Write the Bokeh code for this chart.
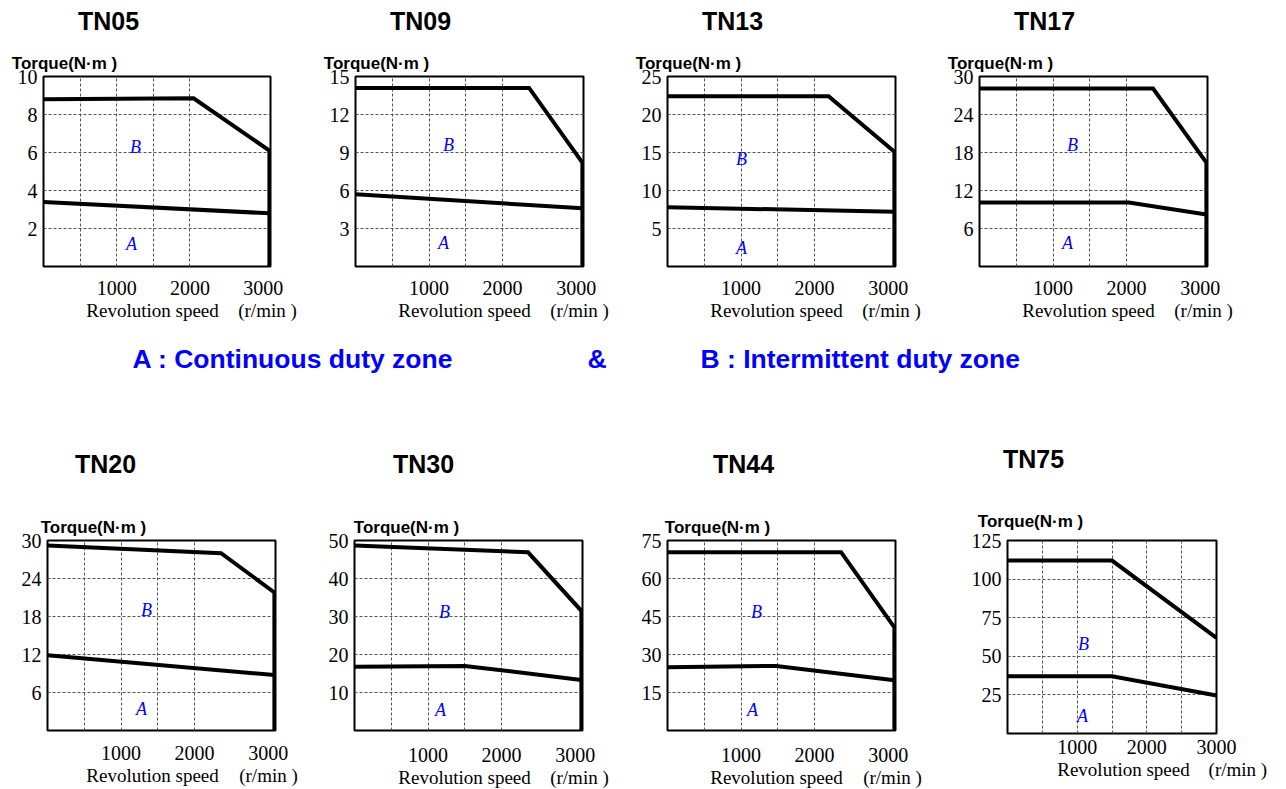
from bokeh.plotting import figure
from bokeh.models import Range1d, FixedTicker, Label, LinearAxis
from bokeh.layouts import column, row
from bokeh.embed import file_html
from bokeh.resources import INLINE
from bokeh.core.properties import value

models = ["TN05", "TN09", "TN13", "TN17", "TN20", "TN30", "TN44", "TN75"]

# ---- Zone B boundary (intermittent duty): speed r/min, torque N·m ----
tn05_b_rpm = [0, 2050, 3085, 3085]
tn05_b_nm = [8.8, 8.85, 6.1, 0]
tn09_b_rpm = [0, 2360, 3085, 3085]
tn09_b_nm = [14.1, 14.1, 8.2, 0]
tn13_b_rpm = [0, 2190, 3085, 3085]
tn13_b_nm = [22.4, 22.4, 15.1, 0]
tn17_b_rpm = [0, 2360, 3085, 3085]
tn17_b_nm = [28.1, 28.1, 16.4, 0]
tn20_b_rpm = [0, 2360, 3085, 3085]
tn20_b_nm = [29.2, 28.0, 21.8, 0]
tn30_b_rpm = [0, 2360, 3085, 3085]
tn30_b_nm = [48.7, 46.9, 31.5, 0]
tn44_b_rpm = [0, 2360, 3085, 3085]
tn44_b_nm = [70.4, 70.4, 40.7, 0]
tn75_b_rpm = [0, 1500, 3000]
tn75_b_nm = [112, 112, 62]

# ---- Zone A boundary (continuous duty) ----
tn05_a_rpm = [0, 3085]
tn05_a_nm = [3.4, 2.8]
tn09_a_rpm = [0, 3085]
tn09_a_nm = [5.7, 4.6]
tn13_a_rpm = [0, 3085]
tn13_a_nm = [7.8, 7.2]
tn17_a_rpm = [0, 2030, 3085]
tn17_a_nm = [10.1, 10.1, 8.2]
tn20_a_rpm = [0, 3085]
tn20_a_nm = [11.9, 8.75]
tn30_a_rpm = [0, 1500, 3085]
tn30_a_nm = [16.8, 17.0, 13.3]
tn44_a_rpm = [0, 1480, 3085]
tn44_a_nm = [25.0, 25.5, 19.8]
tn75_a_rpm = [0, 1500, 3000]
tn75_a_nm = [37, 37, 24.6]

b_rpm = [tn05_b_rpm, tn09_b_rpm, tn13_b_rpm, tn17_b_rpm, tn20_b_rpm, tn30_b_rpm, tn44_b_rpm, tn75_b_rpm]
b_nm = [tn05_b_nm, tn09_b_nm, tn13_b_nm, tn17_b_nm, tn20_b_nm, tn30_b_nm, tn44_b_nm, tn75_b_nm]
a_rpm = [tn05_a_rpm, tn09_a_rpm, tn13_a_rpm, tn17_a_rpm, tn20_a_rpm, tn30_a_rpm, tn44_a_rpm, tn75_a_rpm]
a_nm = [tn05_a_nm, tn09_a_nm, tn13_a_nm, tn17_a_nm, tn20_a_nm, tn30_a_nm, tn44_a_nm, tn75_a_nm]

# ---- axes ----
torque_max = [10, 15, 25, 30, 30, 50, 75, 125]
torque_ticks = [
    [2, 4, 6, 8, 10],
    [3, 6, 9, 12, 15],
    [5, 10, 15, 20, 25],
    [6, 12, 18, 24, 30],
    [6, 12, 18, 24, 30],
    [10, 20, 30, 40, 50],
    [15, 30, 45, 60, 75],
    [25, 50, 75, 100, 125],
]
speed_max = [3100, 3100, 3100, 3100, 3100, 3100, 3100, 3000]
speed_labels = [1000, 2000, 3000]
speed_grid = [
    [500, 1000, 1500, 2000],
    [500, 1000, 1500, 2000],
    [500, 1000, 1500, 2000],
    [500, 1000, 1500, 2000],
    [500, 1000, 1500, 2000],
    [500, 1000, 1500, 2000],
    [500, 1000, 1500, 2000],
    [500, 1000, 1500, 2000, 2500],
]

torque_label = "Torque(N·m )"
speed_label = "Revolution speed"
speed_unit = "(r/min )"
legend_texts = ["A : Continuous duty zone", "&", "B : Intermittent duty zone"]

# ---- layout / style (pixels); *_c = text centre, px right of frame's left edge ----
TOP = dict(fw=228, fh=190, bt=76, bb=64, tso=14, uso=2, ts=4, ns=16,
           title_c=65, torque_c=21, speed_c=109, unit_c=224, pad=0)
LAY = {
    "TN05": dict(TOP, bl=43, br=42, fw=227, B=(92, 70), A=(88, 167)),
    "TN09": dict(TOP, bl=43, br=41, B=(93, 68), A=(88, 166)),
    "TN13": dict(TOP, bl=43, br=41, B=(74, 82), A=(74, 171)),
    "TN17": dict(TOP, bl=43, br=41, B=(93, 68), A=(88, 166)),
    "TN20": dict(bl=47, fw=228, br=37, bt=99, fh=190, bb=60, tso=15, uso=2, ts=4, ns=37,
                 title_c=58, torque_c=46, speed_c=105, unit_c=221, pad=0, B=(99, 69), A=(94, 168)),
    "TN30": dict(bl=42, fw=228, br=42, bt=97, fh=190, bb=62, tso=17, uso=2, ts=4, ns=37,
                 title_c=69, torque_c=52, speed_c=110, unit_c=225, pad=0, B=(90, 71), A=(86, 169)),
    "TN44": dict(bl=43, fw=228, br=41, bt=97, fh=190, bb=62, tso=17, uso=2, ts=4, ns=37,
                 title_c=76, torque_c=50, speed_c=109, unit_c=225, pad=0, B=(89, 71), A=(85, 169)),
    "TN75": dict(bl=71, fw=209, br=54, bt=100, fh=193, bb=56, tso=6, uso=2, ts=10, ns=36,
                 title_c=26, torque_c=23, speed_c=116, unit_c=209, pad=9, B=(76, 103), A=(75, 175)),
}

SERIF = "Liberation Serif"
SANS = "Liberation Sans"
BLUE = "#0000ff"


def text_axis(p, place, ticks, labels, font, size, style, standoff):
    ax = LinearAxis(ticker=FixedTicker(ticks=ticks),
                    major_label_overrides={t: s for t, s in zip(ticks, labels)})
    ax.axis_line_color = None
    ax.major_tick_line_color = None
    ax.minor_tick_line_color = None
    ax.major_tick_out = 0
    ax.major_tick_in = 0
    ax.major_label_standoff = int(standoff)
    ax.major_label_text_font = font
    ax.major_label_text_font_size = size
    ax.major_label_text_font_style = style
    ax.major_label_text_color = "black"
    p.add_layout(ax, place)


def make_chart(i):
    name = models[i]
    L = LAY[name]
    ymax = torque_max[i]
    xmax = speed_max[i]
    p = figure(frame_width=L["fw"], frame_height=L["fh"],
               min_border_left=L["bl"], min_border_right=L["br"],
               min_border_top=L["bt"], min_border_bottom=L["bb"],
               x_range=Range1d(0, xmax), y_range=Range1d(0, ymax),
               toolbar_location=None, output_backend="svg")
    p.outline_line_color = "black"
    p.outline_line_width = 2
    p.background_fill_color = "white"
    p.border_fill_color = "white"

    # main axes
    p.xaxis.ticker = FixedTicker(ticks=speed_labels)
    p.yaxis.ticker = FixedTicker(ticks=torque_ticks[i])
    for ax in (p.xaxis, p.yaxis):
        ax.axis_line_color = None
        ax.major_tick_line_color = None
        ax.minor_tick_line_color = None
        ax.major_tick_out = 0
        ax.major_tick_in = 0
        ax.major_label_text_font = SERIF
        ax.major_label_text_font_size = "20px"
        ax.major_label_text_color = "black"
    p.yaxis.major_label_standoff = 6
    p.xaxis.major_label_standoff = L["tso"]

    # grids
    p.xgrid.ticker = FixedTicker(ticks=speed_grid[i])
    p.ygrid.ticker = FixedTicker(ticks=torque_ticks[i][:-1])
    for g in (p.xgrid, p.ygrid):
        g.grid_line_color = "#555555"
        g.grid_line_width = 1
        g.grid_line_dash = "3 2"

    # curves
    p.line(b_rpm[i], b_nm[i], line_width=4, line_color="black", line_join="miter")
    p.line(a_rpm[i], a_nm[i], line_width=4, line_color="black", line_join="miter")

    # text rows outside the frame, as label-only axes
    px = lambda c: int(round(c / L["fw"] * xmax))
    text_axis(p, "below", [px(L["speed_c"]), px(L["unit_c"])],
              [speed_label, "\u00a0" * L["pad"] + speed_unit], SERIF, "19px", "normal", L["uso"])
    text_axis(p, "above", [px(L["torque_c"])], [torque_label], SANS, "17px", "bold", L["ts"])
    text_axis(p, "above", [px(L["title_c"])], [name], SANS, "25px", "bold", L["ns"])

    # zone letters inside the frame
    for letter in ("B", "A"):
        dx, dy = L[letter]
        p.add_layout(Label(x=0, y=ymax, x_offset=dx, y_offset=-dy, text=letter,
                           text_font=SERIF, text_font_size="18px", text_font_style="italic",
                           text_align="center", text_baseline="middle", text_color=BLUE))
    return p


charts = [make_chart(i) for i in range(len(models))]

# legend band
leg = figure(width=1248, height=110, x_range=Range1d(0, 1248), y_range=Range1d(110, 0),
             min_border=0, toolbar_location=None, output_backend="svg")
leg.axis.visible = False
leg.grid.visible = False
leg.outline_line_color = None
leg.text(x=[132, 587, 700], y=[28, 28, 28], text=legend_texts,
         text_font=value(SANS), text_font_size="26.5px", text_font_style="bold",
         text_color=BLUE, text_baseline="middle", text_align="left")

layout = column(row(*charts[:4]), leg, row(*charts[4:]))

open("out.html", "w").write(file_html(layout, INLINE))
